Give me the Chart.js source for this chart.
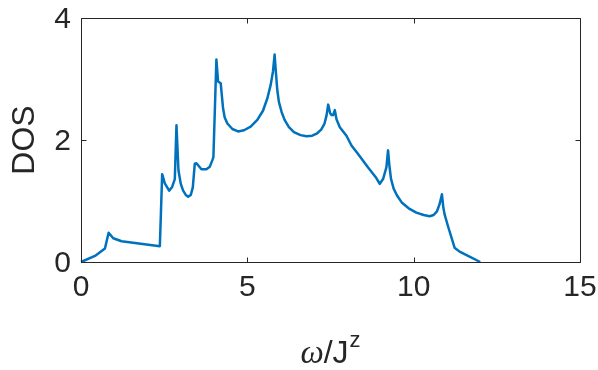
<!DOCTYPE html>
<html><head><meta charset="utf-8">
<script src="https://cdn.jsdelivr.net/npm/chart.js@4/dist/chart.umd.min.js"></script>
<style>html,body{margin:0;padding:0;background:#fff;}#wrap{width:598px;height:370px;}</style>
</head><body><div id="wrap"><canvas id="c" width="598" height="370"></canvas></div>
<script>
const omega = [0.00,0.42,0.72,0.83,0.97,1.22,2.37,2.44,2.52,2.65,2.74,2.82,2.87,2.93,3.00,3.07,3.15,3.22,3.30,3.36,3.42,3.47,3.62,3.77,3.87,3.95,3.98,4.07,4.12,4.20,4.27,4.32,4.40,4.55,4.72,4.90,5.10,5.30,5.47,5.60,5.70,5.77,5.82,5.86,5.90,5.95,6.03,6.12,6.25,6.40,6.60,6.78,6.95,7.10,7.22,7.32,7.38,7.43,7.49,7.53,7.58,7.63,7.68,7.78,7.98,8.13,8.30,8.48,8.63,8.86,8.98,9.08,9.18,9.23,9.27,9.32,9.40,9.50,9.65,9.85,10.08,10.30,10.48,10.60,10.70,10.78,10.85,10.89,10.93,11.03,11.23,11.38,11.68,12.00];
const dos = [0.00,0.10,0.22,0.48,0.39,0.34,0.26,1.44,1.29,1.17,1.23,1.36,2.24,1.50,1.28,1.17,1.10,1.07,1.10,1.22,1.61,1.62,1.52,1.52,1.56,1.67,1.72,3.32,2.96,2.93,2.52,2.37,2.27,2.18,2.14,2.16,2.22,2.33,2.48,2.68,2.90,3.12,3.40,3.10,2.82,2.62,2.46,2.33,2.21,2.13,2.08,2.06,2.07,2.11,2.17,2.27,2.40,2.58,2.44,2.41,2.41,2.49,2.34,2.21,2.07,1.91,1.79,1.66,1.55,1.39,1.28,1.36,1.55,1.83,1.58,1.36,1.20,1.09,0.97,0.88,0.81,0.77,0.75,0.77,0.83,0.95,1.11,0.90,0.78,0.59,0.235,0.17,0.09,0.00];
const xTicks = [0,5,10,15];
const yTicks = [0,2,4];
const xTitleParts = ['ω','/J','z'];
const yTitle = 'DOS';

const AX = '#262626';
const FONT = '"Liberation Sans", Arial, Helvetica, sans-serif';

const boxPlugin = {
  id: 'box',
  afterDatasetsDraw(chart) {
    const {ctx, chartArea: a, scales: {x, y}} = chart;
    ctx.save();
    ctx.strokeStyle = AX; ctx.lineWidth = 1;
    const L = Math.round(a.left) + 0.5, R = Math.round(a.right) + 0.5;
    const T = Math.round(a.top) + 0.5, B = Math.round(a.bottom) + 0.5;
    ctx.beginPath();
    ctx.rect(L, T, R - L, B - T);
    const tl = 5;
    xTicks.forEach(v => {
      const px = Math.round(x.getPixelForValue(v)) + 0.5;
      ctx.moveTo(px, B); ctx.lineTo(px, B - tl);
      ctx.moveTo(px, T); ctx.lineTo(px, T + tl);
    });
    yTicks.forEach(v => {
      const py = Math.round(y.getPixelForValue(v)) + 0.5;
      ctx.moveTo(L, py); ctx.lineTo(L + tl, py);
      ctx.moveTo(R, py); ctx.lineTo(R - tl, py);
    });
    ctx.stroke();
    ctx.restore();
  },
  afterDraw(chart) {
    const {ctx, chartArea: a} = chart;
    ctx.save();
    ctx.fillStyle = AX;
    ctx.translate(34, (a.top + a.bottom) / 2);
    ctx.rotate(-Math.PI / 2);
    ctx.font = '32px ' + FONT;
    ctx.textAlign = 'center';
    ctx.textBaseline = 'alphabetic';
    ctx.fillText(yTitle, 0, 0);
    ctx.restore();
    ctx.save();
    ctx.fillStyle = AX;
    ctx.textBaseline = 'alphabetic';
    ctx.textAlign = 'left';
    const f0 = 'italic 33px "Liberation Serif", "DejaVu Serif", serif';
    const f1 = '32px ' + FONT;
    const f2 = '22px ' + FONT;
    ctx.font = f0; const w0 = ctx.measureText(xTitleParts[0]).width;
    ctx.font = f1; const w1 = ctx.measureText(xTitleParts[1]).width;
    ctx.font = f2; const w2 = ctx.measureText(xTitleParts[2]).width;
    const total = w0 + w1 + w2 + 1;
    let cx = (a.left + a.right) / 2 - total / 2;
    const base = 363;
    ctx.font = f0; ctx.fillText(xTitleParts[0], cx, base); cx += w0;
    ctx.font = f1; ctx.fillText(xTitleParts[1], cx, base); cx += w1 + 1;
    ctx.font = f2; ctx.fillText(xTitleParts[2], cx, base - 16);
    ctx.restore();
  }
};

new Chart(document.getElementById('c'), {
  type: 'line',
  data: {
    datasets: [{
      data: omega.map((v, i) => ({x: v, y: dos[i]})),
      borderColor: '#0072BD',
      borderWidth: 2.5,
      pointRadius: 0,
      tension: 0,
      borderJoinStyle: 'round',
      fill: false,
      clip: 4
    }]
  },
  options: {
    responsive: false,
    animation: false,
    devicePixelRatio: 1,
    layout: {padding: {top: 18, right: 18, left: 0, bottom: 0}},
    plugins: {legend: {display: false}, tooltip: {enabled: false}},
    scales: {
      x: {
        type: 'linear', min: 0, max: 15,
        afterBuildTicks: s => { s.ticks = xTicks.map(v => ({value: v})); },
        grid: {display: false, drawTicks: false},
        border: {display: false},
        ticks: {color: AX, font: {family: FONT, size: 30}, padding: 8, maxRotation: 0},
        afterFit: s => { s.height = 108; s.paddingLeft = 0; s.paddingRight = 0; }
      },
      y: {
        type: 'linear', min: 0, max: 4,
        afterBuildTicks: s => { s.ticks = yTicks.map(v => ({value: v})); },
        grid: {display: false, drawTicks: false},
        border: {display: false},
        ticks: {color: AX, font: {family: FONT, size: 30}, padding: 10, labelOffset: 2},
        afterFit: s => { s.width = 81; s.paddingTop = 0; s.paddingBottom = 0; }
      }
    }
  },
  plugins: [boxPlugin]
});
</script>
</body></html>
